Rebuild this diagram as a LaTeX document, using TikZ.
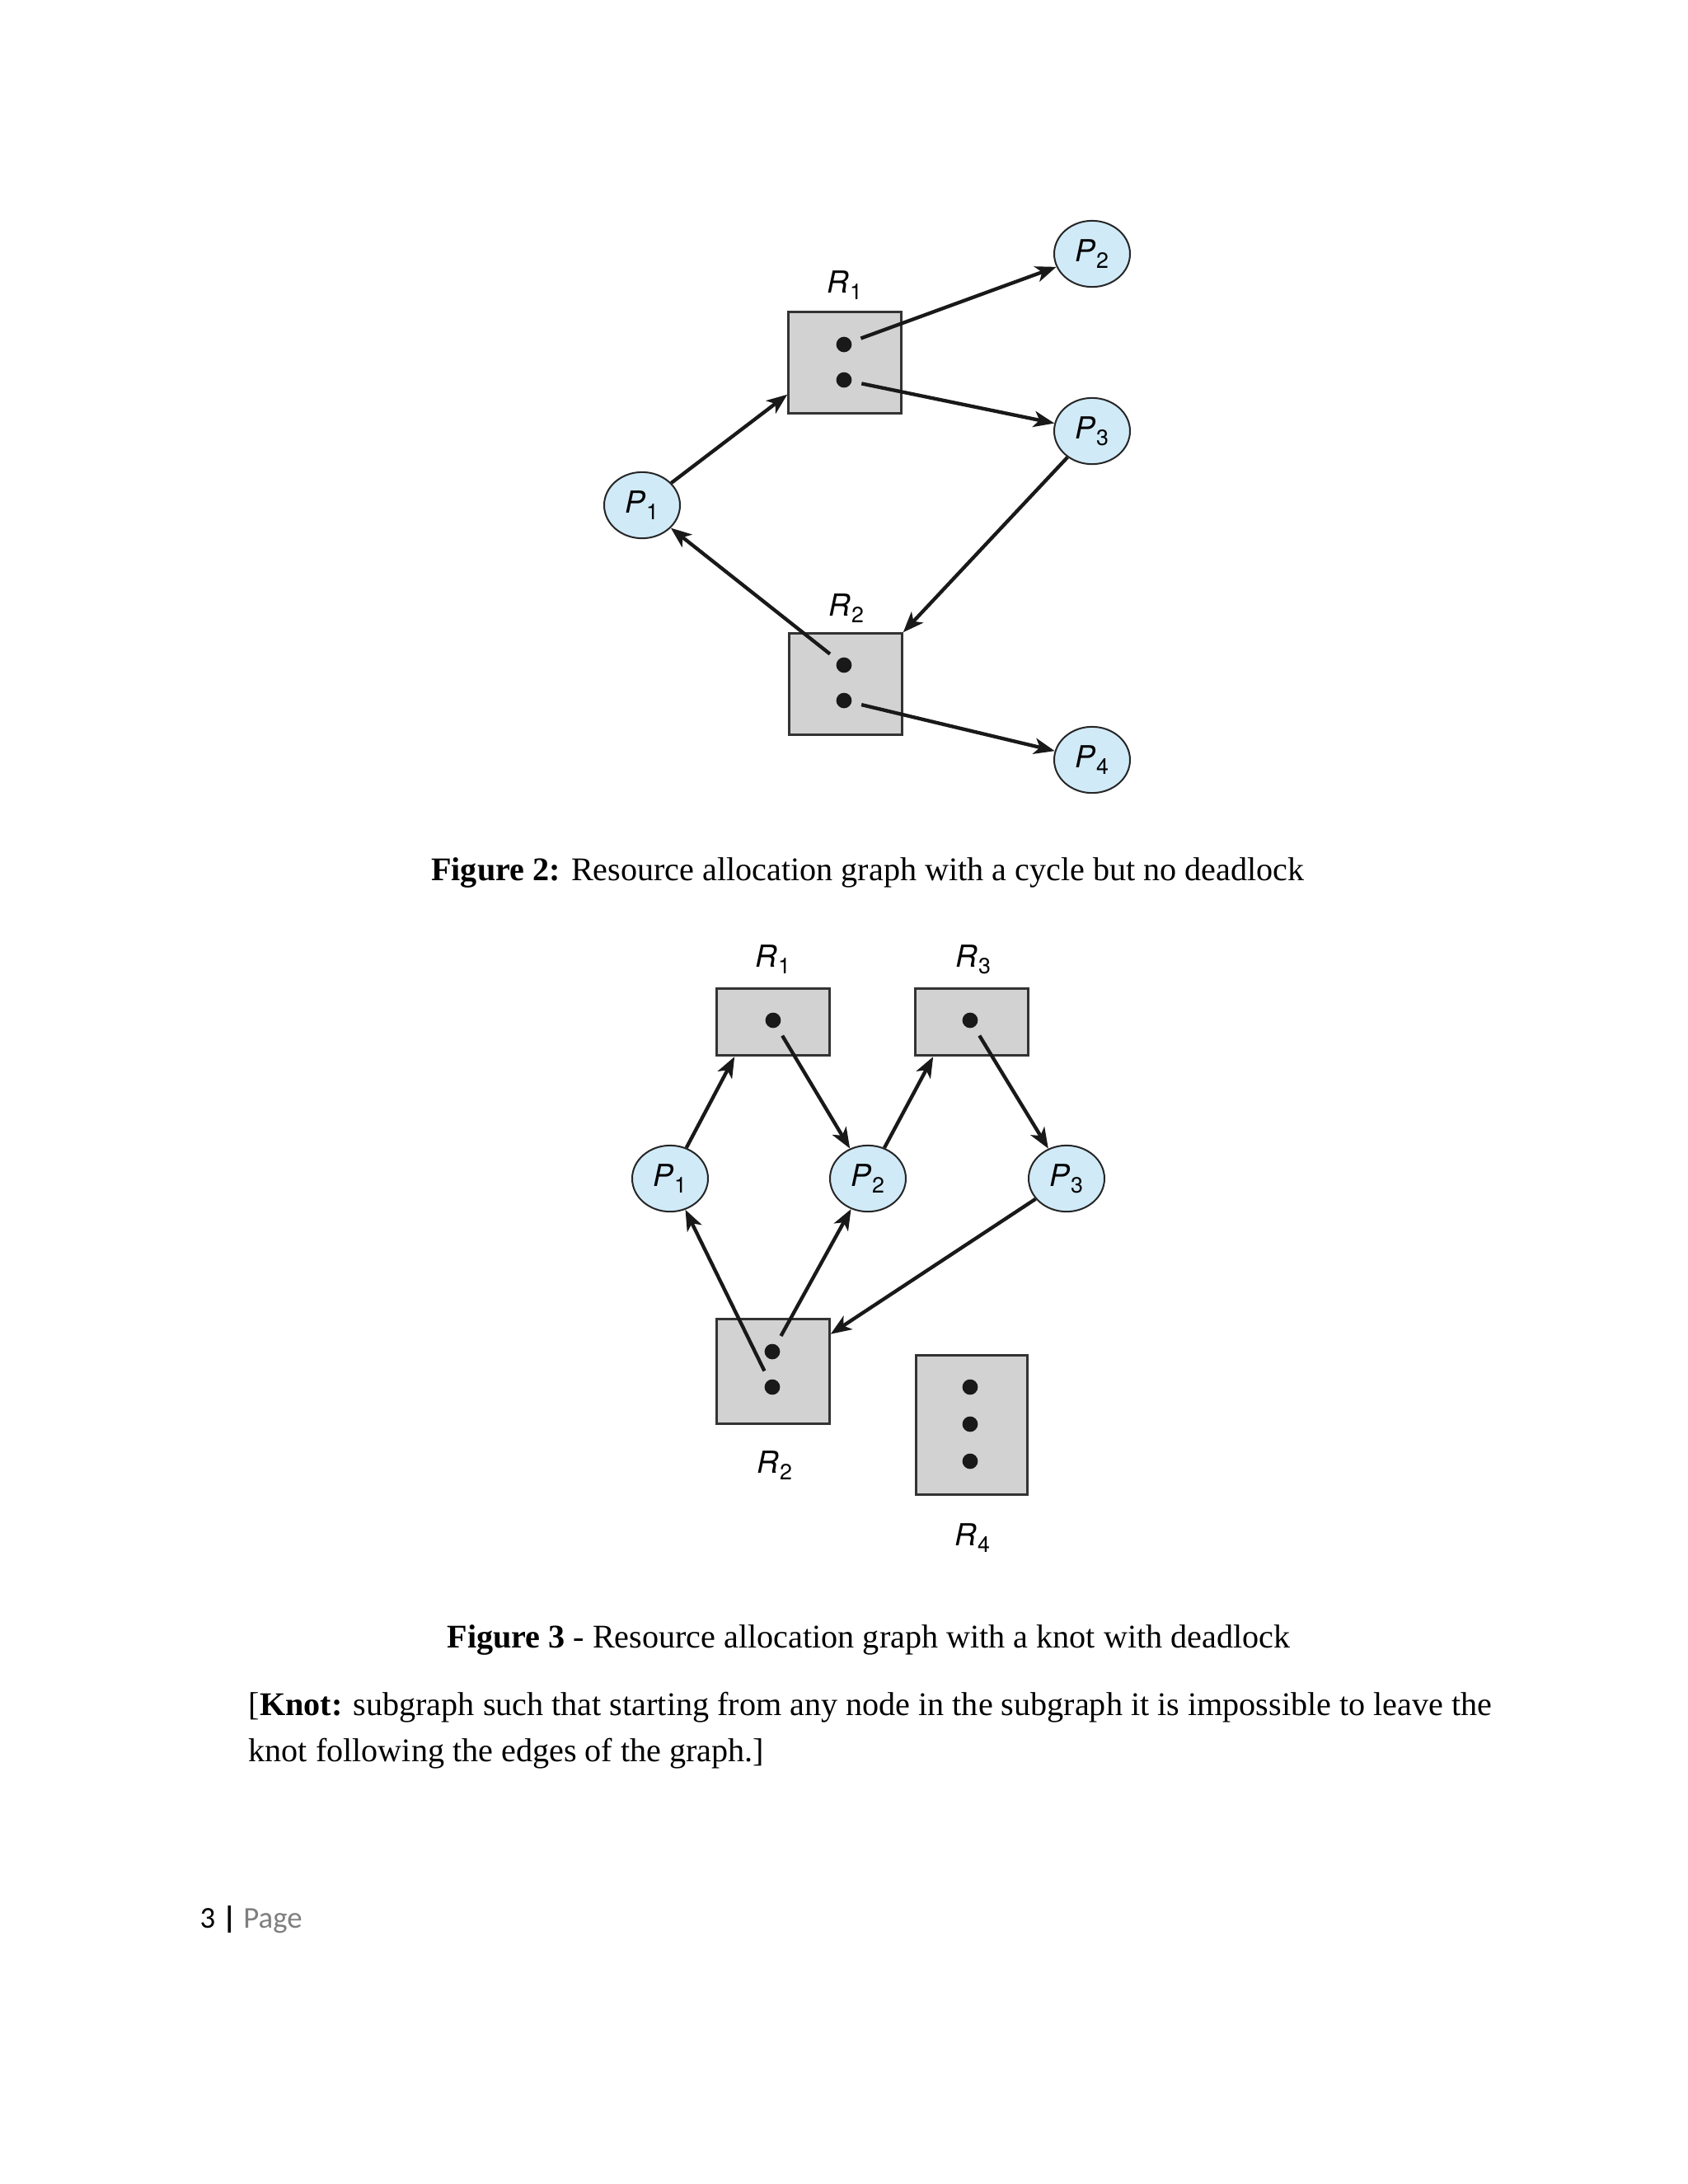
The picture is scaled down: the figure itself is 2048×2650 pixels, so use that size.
\documentclass[tikz,border=0pt]{standalone}
\usepackage{fontspec}
\setmainfont{Liberation Serif}
\newfontfamily\figfont{TeX Gyre Heros}
\newfontfamily\footfont{Carlito}
\usetikzlibrary{arrows.meta,shapes.geometric}
\definecolor{procblue}{HTML}{D0EAF8}
\definecolor{resgray}{HTML}{D2D2D2}
\definecolor{pagegray}{HTML}{7F7F7F}
\newcommand{\lbl}[2]{{\figfont\itshape\fontsize{11}{11}\selectfont #1}\kern.2pt\raisebox{-2.5pt}{\figfont\fontsize{8}{8}\selectfont #2}}
\begin{document}
\begin{tikzpicture}[x=.2989pt,y=-.2989pt,>={Stealth[length=7.5pt,width=5.8pt,inset=2pt]},
  font=\fontsize{12}{14}\selectfont,
  proc/.style={ellipse,draw=black!85,line width=.6pt,fill=procblue,minimum width=27.5pt,minimum height=24pt,inner sep=0},
  res/.style={draw=black!80,line width=.9pt,fill=resgray,minimum width=40.8pt,inner sep=0},
  tok/.style={circle,fill=black!90,minimum size=5.6pt,inner sep=0},
  arr/.style={->,line width=1.3pt,draw=black!90},
  held/.style={arr,shorten <=3.5pt}]
  \fill[white] (0,0) rectangle (2048,2650);
  \useasboundingbox (0,0) rectangle (2048,2650);
  % figure 2
  \node[proc] (a1) at (779,613) {\lbl{P}{1}};
  \foreach \n/\y in {2/308,3/523,4/922}
    \node[proc] (a\n) at (1325,\y) {\lbl{P}{\n}};
  \node[res,minimum height=36.6pt] (ra1) at (1025,440) {};
  \node[res,minimum height=36.6pt] (ra2) at (1026,830) {};
  \node[anchor=base] (la1) at (1025,355) {\lbl{R}{1}};
  \node[anchor=base] (la2) at (1027,747) {\lbl{R}{2}};
  \foreach \k/\y in {1/418,2/461}
    \node[tok] (ta1\k) at (1024,\y) {};
  \foreach \k/\y in {1/807,2/850}
    \node[tok] (ta2\k) at (1024,\y) {};
  \draw[arr] (a1) -- (ra1.209);
  \draw[held] (ta11) -- (a2);
  \draw[held] (ta12) -- (a3);
  \draw[arr] (a3) -- (ra2.north east);
  \draw[held] (ta21) -- (a1);
  \draw[held] (ta22) -- (a4);
  \node[anchor=base] (cap2) at (1053,1068) {\textbf{Figure 2:} Resource allocation graph with a cycle but no deadlock};
  % figure 3
  \foreach \n/\x in {1/813,2/1053,3/1294}
    \node[proc] (b\n) at (\x,1430) {\lbl{P}{\n}};
  \node[res,minimum height=24.3pt] (rb1) at (938,1240) {};
  \node[res,minimum height=24.3pt] (rb3) at (1179,1240) {};
  \node[res,minimum height=37.8pt] (rb2) at (938,1664) {};
  \node[res,minimum width=40.2pt,minimum height=50.6pt] (rb4) at (1179,1729) {};
  \node[anchor=base] (lb1) at (938,1173) {\lbl{R}{1}};
  \node[anchor=base] (lb3) at (1181,1173) {\lbl{R}{3}};
  \node[anchor=base] (lb2) at (940,1787) {\lbl{R}{2}};
  \node[anchor=base] (lb4) at (1180,1875) {\lbl{R}{4}};
  \node[tok] (tb1) at (938,1238) {};
  \node[tok] (tb3) at (1177,1238) {};
  \foreach \k/\y in {1/1640,2/1683}
    \node[tok] (tb2\k) at (937,\y) {};
  \foreach \k/\y in {1/1683,2/1728,3/1773}
    \node[tok] (tb4\k) at (1177,\y) {};
  \draw[arr] (b1) -- (rb1.222);
  \draw[held] (tb1) -- (b2);
  \draw[arr] (b2) -- (rb3.222);
  \draw[held] (tb3) -- (b3);
  \draw[held] (tb22) -- (b1);
  \draw[held] (tb21) -- (b2);
  \draw[arr] (b3) -- (rb2.33);
  \node[anchor=base] (cap3) at (1054,1999) {\textbf{Figure 3} - Resource allocation graph with a knot with deadlock};
  \node[anchor=north west,align=left,inner sep=0,font=\fontsize{12}{16.5}\selectfont] (knot) at (301,2053)
    {[\textbf{Knot:} subgraph such that starting from any node in the subgraph it is impossible to leave the\\
     knot following the edges of the graph.]};
  \node[anchor=base west,inner sep=0,font=\footfont\fontsize{11}{13}\selectfont] (pg) at (242,2339)
    {3 \textbf{|} \textcolor{pagegray}{Page}};
\end{tikzpicture}
\end{document}
